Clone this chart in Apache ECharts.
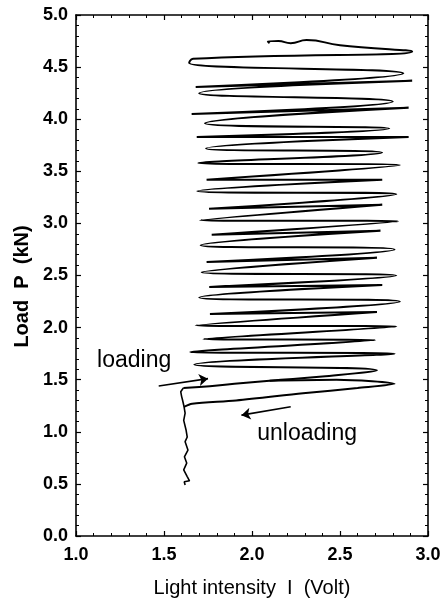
<!DOCTYPE html>
<html><head><meta charset="utf-8">
<script src="https://cdn.jsdelivr.net/npm/echarts@6/dist/echarts.min.js"></script>
<style>html,body{margin:0;padding:0;background:#fff}#c{width:444px;height:603px}</style>
</head><body><div id="c"></div>
<script>
// Light intensity I (Volt) vs Load P (kN)
// noisy vertical start (loading from rest)
const startX = [1.62,1.615,1.645,1.632,1.612,1.629,1.616,1.636,1.62,1.632,1.625,1.612,1.62,1.614,1.606,1.60,1.595,1.61];
const startY = [0.49,0.52,0.53,0.57,0.635,0.70,0.76,0.825,0.905,0.95,1.02,1.11,1.18,1.24,1.30,1.34,1.385,1.42];
// loading branch into the first loop, then cyclic loops (turning points), ending with the top wiggle
const loopX = [1.70,1.90,2.10,2.40,2.71,1.672,2.81,1.648,2.70,1.723,2.82,1.68,2.71,1.761,2.84,1.70,2.74,1.757,2.82,1.714,2.71,1.742,2.81,1.708,2.73,1.771,2.83,1.705,2.74,1.756,2.82,1.689,2.74,1.742,2.84,1.695,2.74,1.739,2.89,1.686,2.78,1.733,2.89,1.657,2.80,1.70,2.91,1.68,2.86,1.643,1.665,2.91,2.50,2.31,2.22,2.15,2.09,2.10];
const loopY = [1.43,1.46,1.49,1.53,1.59,1.645,1.75,1.765,1.88,1.89,2.01,2.02,2.15,2.13,2.25,2.29,2.41,2.39,2.50,2.53,2.67,2.63,2.75,2.79,2.93,2.89,3.02,3.03,3.18,3.14,3.28,3.31,3.42,3.42,3.56,3.58,3.68,3.72,3.83,3.83,3.91,3.96,4.11,4.05,4.17,4.25,4.37,4.31,4.44,4.54,4.58,4.65,4.71,4.76,4.73,4.75,4.745,4.73];
// lower (unloading) branch
const branchX = [1.614,1.66,1.91,2.29,2.60,2.81,2.48,2.10];
const branchY = [1.24,1.27,1.30,1.37,1.42,1.46,1.50,1.49];
// annotation arrows and labels
const arrowLoading = [[1.47,1.44],[1.75,1.51]];
const arrowUnloading = [[2.22,1.24],[1.94,1.16]];
const labelLoading = {text:'loading', x:1.12, y:1.68};
const labelUnloading = {text:'unloading', x:2.03, y:0.98};
const xTicks = [1.0,1.5,2.0,2.5,3.0];
const yTicks = [0.0,0.5,1.0,1.5,2.0,2.5,3.0,3.5,4.0,4.5,5.0];

const zip = (a,b)=>a.map((v,i)=>[v,b[i]]);
const font = 'Liberation Sans, Arial, sans-serif';
const ink = '#000';
function axisBase(extra){
  return Object.assign({
    type:'value', interval:0.5,
    axisLine:{show:true,onZero:false,lineStyle:{color:ink,width:1.6}},
    axisTick:{show:true,inside:true,length:5,lineStyle:{color:ink,width:1.2}},
    minorTick:{show:true,splitNumber:5,length:3,lineStyle:{color:ink,width:1}},
    splitLine:{show:false},
    axisLabel:{show:false}
  },extra);
}
const chart = echarts.init(document.getElementById('c'),null,{renderer:'canvas'});
const lineStyle = {color:ink,width:2};
const line = smooth=>({type:'line',showSymbol:false,symbol:'none',smooth,lineStyle,emphasis:{disabled:true}});
chart.setOption({
  backgroundColor:'#fff',
  animation:false,
  grid:{left:76,right:16,top:15,bottom:67},
  xAxis:[
    axisBase({min:xTicks[0],max:xTicks[xTicks.length-1],position:'bottom',
      name:'Light intensity  I  (Volt)',nameLocation:'middle',nameGap:42,
      nameTextStyle:{color:ink,fontFamily:font,fontSize:20},
      axisLabel:{show:true,color:ink,fontFamily:font,fontWeight:'bold',fontSize:18,margin:10,formatter:v=>v.toFixed(1)}}),
    axisBase({min:xTicks[0],max:xTicks[xTicks.length-1],position:'top'})
  ],
  yAxis:[
    axisBase({min:yTicks[0],max:yTicks[yTicks.length-1],position:'left',
      name:'Load  P  (kN)',nameLocation:'middle',nameGap:44,
      nameTextStyle:{color:ink,fontFamily:font,fontSize:20,fontWeight:'bold',padding:[0,22,0,0]},
      axisLabel:{show:true,color:ink,fontFamily:font,fontWeight:'bold',fontSize:18,margin:8,formatter:v=>v.toFixed(1)}}),
    axisBase({min:yTicks[0],max:yTicks[yTicks.length-1],position:'right'})
  ],
  series:[
    Object.assign(line(false),{data:zip(startX,startY),lineStyle:{color:ink,width:1.6}}),
    Object.assign(line(0.5),{data:zip([startX[startX.length-1]].concat(loopX),[startY[startY.length-1]].concat(loopY))}),
    Object.assign(line(0.3),{data:zip(branchX,branchY)}),
    {type:'lines',coordinateSystem:'cartesian2d',symbol:['none','arrow'],symbolSize:9,
      lineStyle:{color:ink,width:1.6,opacity:1},
      data:[{coords:arrowLoading},{coords:arrowUnloading}]}
  ]
});
const labels = [labelLoading,labelUnloading].map(d=>{
  const p = chart.convertToPixel({gridIndex:0},[d.x,d.y]);
  return {type:'text',x:p[0],y:p[1],style:{text:d.text,fill:ink,font:'23px '+font,textVerticalAlign:'middle'}};
});
chart.setOption({graphic:labels});
</script></body></html>
